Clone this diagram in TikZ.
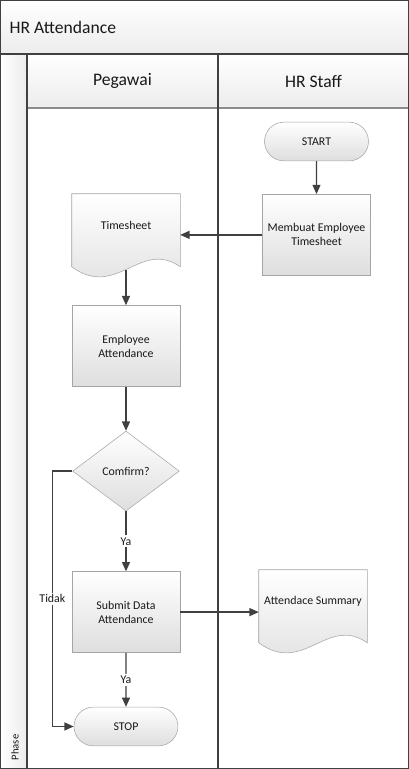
\documentclass[tikz,border=0pt]{standalone}
\usepackage{fontspec}
\setmainfont{Carlito}
\usetikzlibrary{shapes.geometric,shapes.misc,arrows.meta,positioning,calc,backgrounds}
\definecolor{lineDark}{RGB}{64,64,64}
\definecolor{shapeBorder}{RGB}{165,165,165}
\definecolor{shadeBottom}{RGB}{222,222,222}
\definecolor{bandBottom}{RGB}{236,236,236}
\definecolor{ruleGray}{RGB}{140,140,140}
\definecolor{textDark}{RGB}{25,25,25}
\tikzset{
  basetext/.style={rectangle,align=center,text=textDark,font=\fontsize{8.9}{10.5}\selectfont,inner sep=1pt},
  basebox/.style={basetext,draw=shapeBorder,top color=white,bottom color=shadeBottom},
  procnode/.style={basebox,minimum width=81pt,minimum height=60.75pt},
  termnode/.style={basebox,rounded rectangle,minimum width=80pt,minimum height=29pt},
  decnode/.style={basebox,diamond,minimum width=80pt,minimum height=60pt,inner sep=0pt},
  docnode/.style={basetext,minimum width=81pt,minimum height=47.25pt},
  docline/.style={draw=shapeBorder,top color=white,bottom color=shadeBottom},
  lanehead/.style={text=textDark,font=\fontsize{13.2}{15}\selectfont},
  lbl/.style={fill=white,text=textDark,font=\fontsize{8.9}{10.5}\selectfont,inner sep=1.5pt},
  arr/.style={-{Triangle[length=7pt,width=6pt]},line width=1pt,color=lineDark},
  conn/.style={line width=1pt,color=lineDark}
}
\newcommand{\docshape}[1]{%
  \path[docline] (#1.north west) -- (#1.north east) -- ($(#1.south east)+(0,9.5)$)
    .. controls ($(#1.south east)+(-40,-18.5)$) and ($(#1.south west)+(45,42.5)$) ..
    ($(#1.south west)+(0,9.5)$) -- cycle;}

\begin{document}
\begin{tikzpicture}[x=0.75pt,y=-0.75pt]
  \useasboundingbox (0,0) rectangle (409,769);

  %% pool, lanes and headers
  \shade[top color=white,bottom color=bandBottom] (0,0) rectangle (409,54);
  \shade[top color=white,bottom color=bandBottom] (27,54) rectangle (409,108);
  \shade[left color=white,right color=bandBottom] (0,54) rectangle (27,769);
  \draw[ruleGray,line width=1.5pt] (27,108) -- (409,108);
  \draw[lineDark,line width=0.8pt] (0,54) -- (409,54);
  \draw[lineDark,line width=0.8pt] (27,54) -- (27,769);
  \draw[lineDark,line width=0.8pt] (218,54) -- (218,769);
  \draw[lineDark,line width=1.2pt] (0.6,0.6) rectangle (408.4,768.4);

  \node[lanehead,anchor=west] (pool) at (5,27) {HR Attendance};
  \node[lanehead] (pegawai) at (122.5,81) {Pegawai};
  \node[lanehead] (hrstaff) at (313.5,81) {HR Staff};
  \node[text=textDark,font=\fontsize{8}{9}\selectfont,rotate=90,anchor=west] (phase) at (15,765) {Phase};

  %% HR Staff lane
  \node[termnode] (start) at (316.5,141.5) {START};
  \node[procnode,below=24.75pt of start] (membuat) {Membuat Employee\\Timesheet};
  \node[docnode] (summary) at (313,601.5) {Attendace Summary};

  %% Pegawai lane
  \node[docnode] (timesheet) at (126,225.5) {Timesheet};
  \node[procnode,below=36pt of timesheet] (attend) {Employee\\Attendance};
  \node[decnode,below=33pt of attend] (confirm) {Comfirm?};
  \node[procnode,below=45pt of confirm] (submit) {Submit Data\\Attendance};
  \node[termnode,below=40.5pt of submit] (stop) {STOP};

  \begin{pgfonlayer}{background}
    \docshape{timesheet}
    \docshape{summary}
  \end{pgfonlayer}

  %% connectors
  \draw[arr] (start) -- (membuat);
  \draw[arr] (membuat.west) -- (membuat.west -| timesheet.east);
  \draw[arr] ($(timesheet.south)+(0,13)$) -- (attend);
  \draw[arr] (attend) -- (confirm);
  \draw[arr] (confirm) -- (submit) node[lbl,midway]{Ya};
  \draw[arr] (submit.east) -- (submit.east -| summary.west);
  \draw[arr] (submit) -- (stop) node[lbl,midway]{Ya};
  \draw[conn] (confirm.west) -- ++(-20,0) coordinate (tidakturn);
  \draw[arr] (tidakturn) |- (stop.west) node[lbl,pos=0.25]{Tidak};
\end{tikzpicture}
\end{document}
